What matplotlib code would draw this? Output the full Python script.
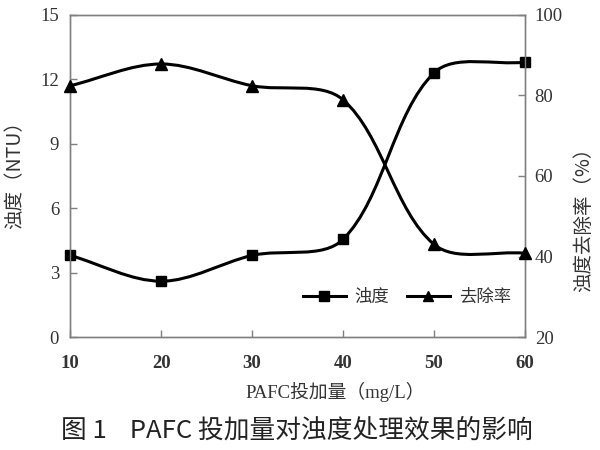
import matplotlib
matplotlib.use("Agg")
import matplotlib.pyplot as plt
import numpy as np
from matplotlib.path import Path
from matplotlib.patches import PathPatch
from matplotlib.lines import Line2D

# data
dosage = [10, 20, 30, 40, 50, 60]              # PAFC 投加量 (mg/L)
turbidity = [3.8, 2.6, 3.8, 4.55, 12.3, 12.8]  # 浊度 (NTU)
removal = [82.4, 87.8, 82.4, 78.9, 43.0, 40.8] # 去除率 (%)

CJK = ["Noto Sans CJK SC", "DejaVu Sans"]
SERIF = ["Liberation Serif", "Noto Sans CJK SC"]
TXT = "#333333"
AXC = "#808080"


def smooth_path(a, x, y):
    """Excel-like smoothed line (chord-weighted Catmull-Rom, screen space)."""
    pts = a.transData.transform(np.column_stack([x, y]).astype(float))
    n = len(pts)
    verts = [pts[0]]
    codes = [Path.MOVETO]
    for i in range(n - 1):
        p0 = pts[i - 1] if i > 0 else pts[i]
        p1, p2 = pts[i], pts[i + 1]
        p3 = pts[i + 2] if i + 2 < n else pts[i + 1]
        d01 = np.hypot(*(p1 - p0))
        d12 = np.hypot(*(p2 - p1))
        d23 = np.hypot(*(p3 - p2))
        w1 = d12 / (d01 + d12) if d01 + d12 else 0
        w2 = d12 / (d12 + d23) if d12 + d23 else 0
        c1 = p1 + (p2 - p0) * w1 / 3.0
        c2 = p2 - (p3 - p1) * w2 / 3.0
        verts += [c1, c2, p2]
        codes += [Path.CURVE4] * 3
    verts = a.transData.inverted().transform(np.array(verts))
    return Path(verts, codes)


fig = plt.figure(figsize=(6, 4.5), dpi=100)
ax = fig.add_axes([0.117, 0.251, 0.758, 0.716])
ax2 = ax.twinx()

ax.set_xlim(10, 60)
ax.set_ylim(0, 15)
ax2.set_ylim(20, 100)
ax.set_xticks(dosage)
ax.set_yticks([0, 3, 6, 9, 12, 15])
ax2.set_yticks([20, 40, 60, 80, 100])

ax.add_patch(PathPatch(smooth_path(ax, dosage, turbidity), fill=False,
                       edgecolor="black", lw=2.2, zorder=3))
ax.plot(dosage, turbidity, "s", color="black", ms=7.5, zorder=4, clip_on=False)

ax2.add_patch(PathPatch(smooth_path(ax2, dosage, removal), fill=False,
                        edgecolor="black", lw=2.2, zorder=3))
ax2.plot(dosage, removal, "^", color="black", ms=8, zorder=4, clip_on=False)

for a in (ax, ax2):
    for s in a.spines.values():
        s.set_color(AXC)
        s.set_linewidth(1.0)
    a.tick_params(direction="in", length=5, width=1, color=AXC,
                  labelsize=13.5, labelcolor=TXT, pad=8)
    for lab in a.get_xticklabels() + a.get_yticklabels():
        lab.set_family(SERIF)
for lab in ax.get_xticklabels():
    lab.set_fontweight("bold")
ax.tick_params(axis="x", pad=13)
ax2.tick_params(axis="y", pad=7)

fig.text(0.025, 0.622, "浊度（NTU）", rotation=90, ha="center", va="center",
         fontsize=14, color=TXT, family=["Noto Sans CJK SC", "Liberation Serif"])
fig.text(0.972, 0.522, "浊度去除率（%）", rotation=90, ha="center", va="center",
         fontsize=14, color=TXT, family=["Noto Sans CJK SC", "Liberation Serif"])
fig.text(0.558, 0.129, "PAFC投加量（mg/L）", ha="center", va="center",
         fontsize=13.5, color=TXT, family=["Liberation Serif", "Noto Sans CJK SC"])
fig.text(0.495, 0.044, "图 1    PAFC 投加量对浊度处理效果的影响", ha="center",
         va="center", fontsize=18.5, color="#222222", family=CJK)

handles = [Line2D([], [], color="black", lw=2.2, marker="s", ms=7),
           Line2D([], [], color="black", lw=2.2, marker="^", ms=7.5)]
leg = ax.legend(handles, ["浊度", "去除率"], loc="center", ncol=2,
                frameon=False, bbox_to_anchor=(0.74, 0.124), handlelength=2.5,
                columnspacing=1.0, handletextpad=0.5,
                prop={"family": CJK, "size": 12.5})
for t in leg.get_texts():
    t.set_color(TXT)

fig.savefig("out.png", dpi=100)
